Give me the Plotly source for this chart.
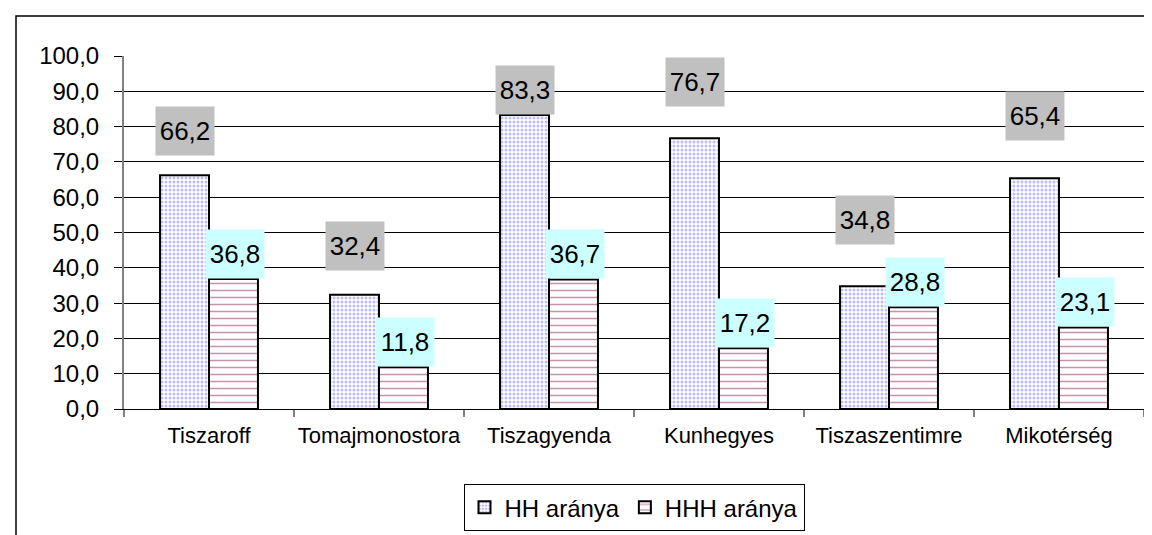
import plotly.graph_objects as go

categories = ["Tiszaroff", "Tomajmonostora", "Tiszagyenda", "Kunhegyes", "Tiszaszentimre", "Mikotérség"]
hh_values = [66.2, 32.4, 83.3, 76.7, 34.8, 65.4]
hhh_values = [36.8, 11.8, 36.7, 17.2, 28.8, 23.1]
series_names = ["HH aránya", "HHH aránya"]
y_ticks = [0, 10, 20, 30, 40, 50, 60, 70, 80, 90, 100]

# style: vertical lift (px) of the grey labels above their bars
hh_label_lift = [19, 24, 0, 31, 41, 37]

FONT = "Arial, Liberation Sans, sans-serif"

def fmt(v):
    return f"{v:.1f}".replace(".", ",")

fig = go.Figure()
fig.add_trace(go.Bar(
    x=categories, y=hh_values, name=series_names[0],
    marker=dict(color="white", line=dict(color="black", width=2),
                pattern=dict(shape=".", fgcolor="#7878F0", bgcolor="white",
                             size=4, solidity=0.45)),
))
fig.add_trace(go.Bar(
    x=categories, y=hhh_values, name=series_names[1],
    marker=dict(color="white", line=dict(color="black", width=2),
                pattern=dict(shape="-", fgcolor="#8A2A5C", bgcolor="white",
                             size=7, solidity=0.22)),
))

annotations = []
for c, v, lift in zip(categories, hh_values, hh_label_lift):
    annotations.append(dict(x=c, y=v, xref="x", yref="y", text=fmt(v), showarrow=False,
                            yanchor="bottom", xanchor="center", xshift=-24, yshift=lift,
                            width=58, height=48, bgcolor="#C0C0C0", borderpad=0,
                            font=dict(family=FONT, size=26, color="black")))
for c, v in zip(categories, hhh_values):
    annotations.append(dict(x=c, y=v, xref="x", yref="y", text=fmt(v), showarrow=False,
                            yanchor="bottom", xanchor="center", xshift=26, yshift=0,
                            width=58, height=48, bgcolor="#CCFFFF", borderpad=0,
                            font=dict(family=FONT, size=26, color="black")))

W, H = 1152, 535
L, R, T, B = 116, 16, 48, 125
pw, ph = W - L - R, H - T - B

def px(x):
    return (x - L) / pw

def py(y):
    return (H - B - y) / ph

fig.update_layout(
    width=W, height=H,
    margin=dict(l=L, r=R, t=T, b=B, pad=0),
    paper_bgcolor="white", plot_bgcolor="white",
    barmode="group", bargap=0.424, bargroupgap=0,
    separators=", ",
    font=dict(family=FONT, size=22, color="black"),
    showlegend=True,
    legend=dict(orientation="h", x=0.5, xanchor="center", y=py(487), yanchor="top",
                bordercolor="black", borderwidth=1, bgcolor="white",
                font=dict(family=FONT, size=24, color="black"),
                itemwidth=30, traceorder="normal"),
    annotations=annotations,
    shapes=[dict(type="rect", xref="paper", yref="paper",
                 x0=px(8), x1=px(1165), y0=py(545), y1=py(7),
                 line=dict(color="black", width=1.5), fillcolor="rgba(0,0,0,0)", layer="below")],
    xaxis=dict(type="category", showgrid=False, showline=True, linecolor="#000000", linewidth=1,
               ticks="outside", tickson="boundaries", ticklen=7, tickcolor="#808080", tickwidth=1.5,
               tickangle=0,
               tickfont=dict(family=FONT, size=22, color="black"), ticklabelstandoff=7,
               zeroline=False, fixedrange=True),
    yaxis=dict(range=[0, 100], tickvals=y_ticks, tickformat=".1f",
               showgrid=True, gridcolor="#000000", gridwidth=1,
               showline=True, linecolor="#808080", linewidth=2,
               ticks="outside", ticklen=8, tickcolor="black", tickwidth=1,
               tickfont=dict(family=FONT, size=24, color="black"), ticklabelstandoff=10,
               zeroline=False, fixedrange=True),
)

fig.write_html("out.html")
